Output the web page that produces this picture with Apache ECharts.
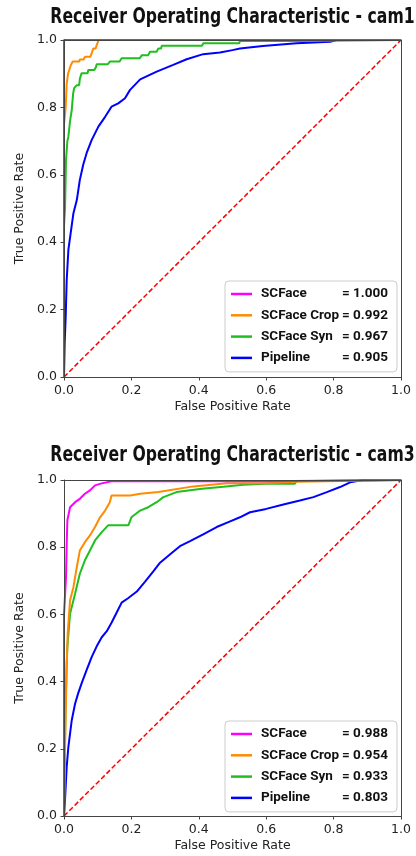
<!DOCTYPE html>
<html>
<head>
<meta charset="utf-8">
<script src="https://cdn.jsdelivr.net/npm/echarts@6/dist/echarts.min.js"></script>
<style>
  html, body { margin: 0; padding: 0; background: #fff; }
  #chart { width: 416px; height: 856px; }
</style>
</head>
<body>
<div id="chart"></div>
<script>
// model names, shared by both panels
const models = ["SCFace", "SCFace Crop", "SCFace Syn", "Pipeline"];
const colors = ["#ff00ff", "#ff8c00", "#1fbf1f", "#0000ff"];
const titles = ["Receiver Operating Characteristic - cam1", "Receiver Operating Characteristic - cam3"];
const tickLabels = ["0.0", "0.2", "0.4", "0.6", "0.8", "1.0"];

// AUC values shown in legends
const aucCam1 = ["1.000", "0.992", "0.967", "0.905"];
const aucCam3 = ["0.988", "0.954", "0.933", "0.803"];

// ---- cam1 ROC points (fpr, tpr) ----
const cam1FaceFpr = [0, 0, 0.008, 1];
const cam1FaceTpr = [0, 1, 1, 1];

const cam1CropFpr = [0, 0, 0.005, 0.008, 0.012, 0.02, 0.026, 0.045, 0.047, 0.058, 0.062, 0.078, 0.082, 0.087, 0.094, 0.097, 0.103, 1];
const cam1CropTpr = [0, 0.75, 0.80, 0.87, 0.90, 0.925, 0.936, 0.936, 0.942, 0.942, 0.950, 0.950, 0.960, 0.975, 0.975, 0.985, 1, 1];

const cam1SynFpr = [0, 0, 0.003, 0.006, 0.010, 0.013, 0.018, 0.023, 0.027, 0.030, 0.038, 0.045, 0.047, 0.052, 0.070, 0.072, 0.090, 0.095, 0.097, 0.130, 0.136, 0.165, 0.171, 0.225, 0.231, 0.25, 0.255, 0.275, 0.28, 0.288, 0.29, 0.41, 0.413, 0.52, 0.522, 0.69, 0.695, 1];
const cam1SynTpr = [0, 0.45, 0.50, 0.644, 0.70, 0.713, 0.76, 0.792, 0.84, 0.857, 0.866, 0.866, 0.885, 0.901, 0.901, 0.911, 0.911, 0.92, 0.928, 0.928, 0.936, 0.936, 0.946, 0.946, 0.955, 0.955, 0.965, 0.965, 0.975, 0.975, 0.983, 0.983, 0.990, 0.990, 0.997, 0.997, 1, 1];

const cam1PipeFpr = [0, 0.002, 0.005, 0.008, 0.013, 0.021, 0.028, 0.038, 0.047, 0.057, 0.067, 0.082, 0.102, 0.122, 0.141, 0.161, 0.181, 0.196, 0.226, 0.275, 0.324, 0.364, 0.413, 0.463, 0.5, 0.522, 0.59, 0.69, 0.79, 0.809, 1];
const cam1PipeTpr = [0, 0.10, 0.179, 0.288, 0.377, 0.436, 0.486, 0.525, 0.585, 0.63, 0.664, 0.703, 0.743, 0.772, 0.802, 0.812, 0.827, 0.852, 0.883, 0.906, 0.926, 0.943, 0.958, 0.963, 0.970, 0.975, 0.982, 0.990, 0.995, 1, 1];

// ---- cam3 ROC points ----
const cam3FaceFpr = [0, 0, 0.006, 0.008, 0.010, 0.018, 0.033, 0.047, 0.062, 0.077, 0.092, 0.112, 0.141, 0.6, 0.605, 1];
const cam3FaceTpr = [0, 0.60, 0.711, 0.81, 0.88, 0.919, 0.934, 0.944, 0.959, 0.969, 0.984, 0.990, 0.996, 0.996, 1, 1];

const cam3CropFpr = [0, 0.003, 0.006, 0.008, 0.011, 0.018, 0.028, 0.038, 0.047, 0.062, 0.077, 0.092, 0.107, 0.122, 0.136, 0.141, 0.196, 0.2, 0.226, 0.231, 0.28, 0.285, 0.384, 0.483, 0.6, 0.605, 0.685, 0.69, 1];
const cam3CropTpr = [0, 0.20, 0.345, 0.45, 0.544, 0.642, 0.681, 0.741, 0.790, 0.815, 0.835, 0.860, 0.889, 0.909, 0.934, 0.954, 0.954, 0.959, 0.959, 0.964, 0.964, 0.969, 0.981, 0.990, 0.990, 0.995, 0.995, 1, 1];

const cam3SynFpr = [0, 0.002, 0.004, 0.008, 0.010, 0.018, 0.033, 0.047, 0.062, 0.077, 0.092, 0.112, 0.131, 0.191, 0.2, 0.226, 0.25, 0.275, 0.295, 0.334, 0.409, 0.473, 0.532, 0.6, 0.685, 0.69, 0.745, 0.75, 1];
const cam3SynTpr = [0, 0.15, 0.30, 0.45, 0.503, 0.602, 0.662, 0.721, 0.761, 0.790, 0.820, 0.845, 0.865, 0.865, 0.889, 0.909, 0.919, 0.934, 0.949, 0.964, 0.974, 0.980, 0.986, 0.989, 0.989, 0.997, 0.997, 1, 1];

const cam3PipeFpr = [0, 0.003, 0.008, 0.013, 0.023, 0.033, 0.042, 0.052, 0.067, 0.082, 0.097, 0.112, 0.127, 0.141, 0.156, 0.171, 0.19, 0.216, 0.24, 0.265, 0.285, 0.315, 0.344, 0.374, 0.413, 0.453, 0.493, 0.522, 0.552, 0.6, 0.651, 0.70, 0.74, 0.78, 0.819, 0.849, 0.888, 1];
const cam3PipeTpr = [0, 0.048, 0.146, 0.206, 0.285, 0.335, 0.365, 0.394, 0.434, 0.473, 0.505, 0.532, 0.55, 0.575, 0.605, 0.635, 0.648, 0.668, 0.697, 0.728, 0.754, 0.779, 0.803, 0.818, 0.838, 0.860, 0.877, 0.889, 0.904, 0.914, 0.927, 0.939, 0.949, 0.964, 0.979, 0.993, 1, 1];

const diagonal = [0, 1];

const panels = [
  { fpr: [cam1FaceFpr, cam1CropFpr, cam1SynFpr, cam1PipeFpr], tpr: [cam1FaceTpr, cam1CropTpr, cam1SynTpr, cam1PipeTpr], auc: aucCam1 },
  { fpr: [cam3FaceFpr, cam3CropFpr, cam3SynFpr, cam3PipeFpr], tpr: [cam3FaceTpr, cam3CropTpr, cam3SynTpr, cam3PipeTpr], auc: aucCam3 },
];

const zip = (xs, ys) => xs.map((x, i) => [x, ys[i]]);

const gridTops = [40, 480];
const gridHeights = [337, 336];
const titleYs = [17.5, 456];
const legendTops = [281, 721];

const axisColor = "#444";
const labelFont = { fontFamily: "DejaVu Sans", fontSize: 12.5, color: "#222" };

const xAxes = [];
const yAxes = [];
const series = [];
const grids = [];
const graphics = [];
const legends = [];

panels.forEach((p, g) => {
  grids.push({ left: 64, top: gridTops[g], width: 337, height: gridHeights[g] });

  // titles: bold face squeezed horizontally to mimic the narrow font
  graphics.push({
    type: "text",
    x: 232.5,
    y: titleYs[g],
    scaleX: 0.85,
    style: {
      text: titles[g],
      align: "center",
      verticalAlign: "middle",
      fontFamily: "'DejaVu Sans Condensed', 'DejaVu Sans', sans-serif",
      fontWeight: "bold",
      fontSize: 20.5,
      fill: "#111",
    },
  });

  // main axes
  xAxes.push({
    gridIndex: g, type: "value", min: 0, max: 1, interval: 0.2, position: "bottom", z: 10,
    name: "False Positive Rate", nameLocation: "middle", nameGap: 23, nameTextStyle: labelFont,
    axisLine: { show: true, onZero: false, lineStyle: { color: axisColor, width: 1 } },
    axisTick: { show: true, length: 3.5, lineStyle: { color: axisColor } },
    axisLabel: Object.assign({ margin: 7, formatter: (v) => tickLabels[Math.round(v * 5)] }, labelFont),
    splitLine: { show: false },
  });
  yAxes.push({
    gridIndex: g, type: "value", min: 0, max: 1, interval: 0.2, position: "left", z: 10,
    name: "True Positive Rate", nameLocation: "middle", nameGap: 31, nameTextStyle: labelFont,
    axisLine: { show: true, onZero: false, lineStyle: { color: axisColor, width: 1 } },
    axisTick: { show: true, length: 3.5, lineStyle: { color: axisColor } },
    axisLabel: Object.assign({ margin: 7, formatter: (v) => tickLabels[Math.round(v * 5)] }, labelFont),
    splitLine: { show: false },
  });
  // frame axes (top / right spines)
  xAxes.push({
    gridIndex: g, type: "value", min: 0, max: 1, position: "top", z: 10,
    axisLine: { show: true, onZero: false, lineStyle: { color: axisColor, width: 1 } },
    axisTick: { show: false }, axisLabel: { show: false }, splitLine: { show: false },
  });
  yAxes.push({
    gridIndex: g, type: "value", min: 0, max: 1, position: "right", z: 10,
    axisLine: { show: true, onZero: false, lineStyle: { color: axisColor, width: 1 } },
    axisTick: { show: false }, axisLabel: { show: false }, splitLine: { show: false },
  });

  const xi = g * 2;
  const yi = g * 2;

  models.forEach((m, k) => {
    series.push({
      name: m,
      type: "line",
      xAxisIndex: xi,
      yAxisIndex: yi,
      data: zip(p.fpr[k], p.tpr[k]),
      symbol: "none",
      color: colors[k],
      lineStyle: { width: 2, color: colors[k] },
      z: 6 - k,
      animation: false,
    });
  });

  series.push({
    name: "chance",
    type: "line",
    xAxisIndex: xi,
    yAxisIndex: yi,
    data: zip(diagonal, diagonal),
    symbol: "none",
    lineStyle: { width: 1.5, color: "#ff0000", type: [5, 2.5] },
    z: 1,
    animation: false,
  });

  const rt = { fontFamily: "Roboto, 'Liberation Sans', sans-serif", fontWeight: "bold", fontSize: 13.5, lineHeight: 16, color: "#111" };
  legends.push({
    data: models,
    orient: "vertical",
    left: 225,
    top: legendTops[g],
    padding: [5, 9, 6, 6],
    itemGap: 5.3,
    itemWidth: 21,
    itemHeight: 2.5,
    icon: "rect",
    selectedMode: false,
    borderColor: "#cccccc",
    borderWidth: 1,
    borderRadius: 4,
    backgroundColor: "rgba(255,255,255,0.85)",
    formatter: (name) => `{n|${name}}{v|= ${p.auc[models.indexOf(name)]}}`,
    textStyle: Object.assign({}, rt, {
      rich: {
        n: Object.assign({ width: 83, padding: [0, 0, 0, 4] }, rt),
        v: Object.assign({ width: 44, align: "right" }, rt),
      },
    }),
  });
});

const chart = echarts.init(document.getElementById("chart"), null, { renderer: "canvas" });
chart.setOption({
  animation: false,
  backgroundColor: "#fff",
  graphic: graphics,
  legend: legends,
  grid: grids,
  xAxis: xAxes,
  yAxis: yAxes,
  series: series,
});
</script>
</body>
</html>
